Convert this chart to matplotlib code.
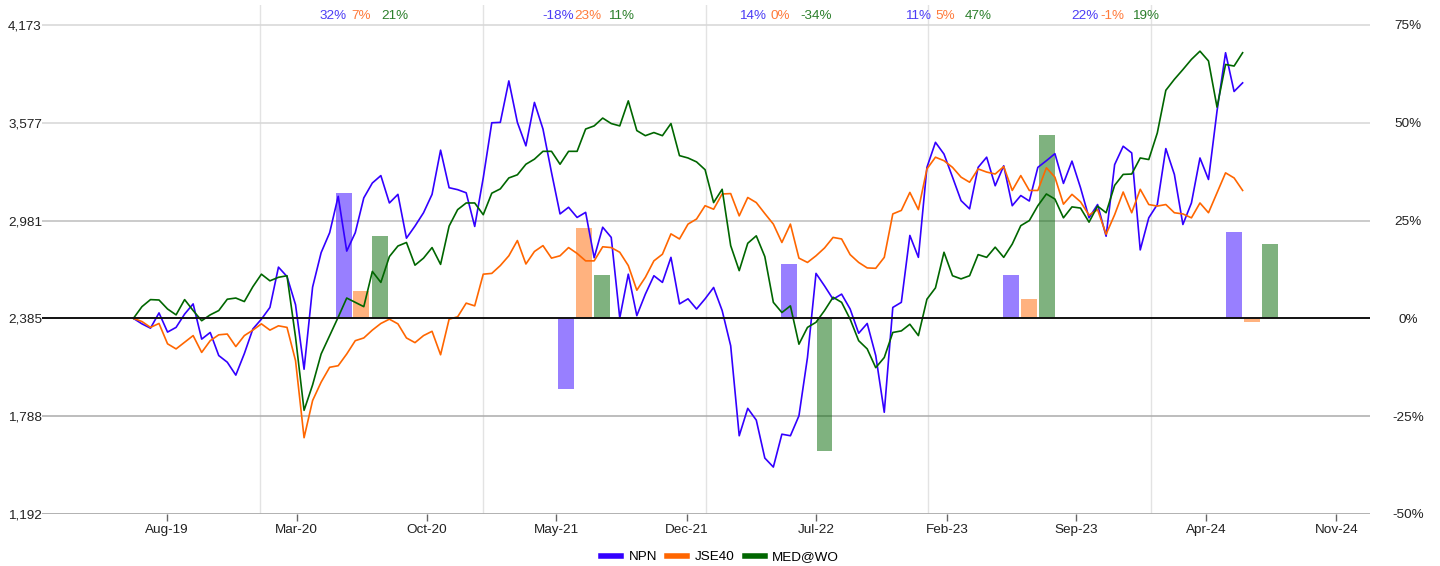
import pandas as pd
import matplotlib
matplotlib.use("Agg")
import matplotlib.pyplot as plt
from matplotlib.lines import Line2D

plt.rcParams['font.family'] = ['Liberation Sans', 'DejaVu Sans']

# relative performance (%) sampled every two weeks from 2019-06-07
start_date = '2019-06-07'
npn = [0, -1.4, -2.5, 1.4, -3.5, -2.3, 1.1, 3.7, -5.3, -3.6,
       -9.5, -11.2, -14.5, -9.0, -2.7, -0.2, 2.8, 13.1, 10.7, 3.5,
       -13.0, 8.0, 16.8, 21.9, 31.2, 17.2, 21.9, 30.8, 34.6, 36.5,
       29.5, 31.7, 20.5, 23.6, 27.0, 31.7, 43.0, 33.4, 32.9, 32.1,
       23.5, 35.9, 50.0, 50.1, 60.7, 50.1, 44.1, 55.2, 48.4, 37.3,
       26.7, 28.4, 25.8, 27.1, 15.5, 23.3, 20.7, 0.1, 11.3, 0.7,
       6.2, 10.9, 9.2, 15.6, 3.7, 5.0, 2.4, 5.0, 7.9, 2.0,
       -7.0, -30.0, -23.0, -26.0, -35.7, -38.0, -29.6, -30.0, -24.9, -10.0,
       11.5, 8.3, 4.9, 6.2, 2.4, -3.8, -1.3, -9.5, -24.0, 2.8,
       4.1, 21.2, 15.6, 38.6, 45.0, 42.0, 36.1, 30.1, 28.0, 38.6,
       41.2, 33.9, 39.0, 28.8, 31.4, 30.0, 38.6, 40.3, 42.1, 34.5,
       40.2, 33.4, 25.7, 29.1, 21.0, 39.3, 44.0, 42.3, 17.5, 25.7,
       29.1, 43.4, 36.8, 24.0, 29.5, 41.0, 35.5, 53.0, 67.9, 58.0,
       60.2]
jse40 = [0, -0.8, -2.3, -1.3, -6.5, -7.8, -6.1, -4.4, -8.7, -5.7,
         -4.2, -4.0, -7.2, -4.4, -3.0, -1.4, -3.0, -1.9, -2.3, -10.8,
         -30.5, -21.0, -16.3, -12.5, -12.1, -9.1, -5.7, -5.0, -3.0, -1.3,
         -0.2, -1.4, -5.0, -6.2, -4.4, -3.3, -9.3, -0.2, 0.4, 3.9,
         3.2, 11.3, 11.5, 13.5, 16.0, 19.9, 13.9, 17.1, 18.6, 15.4,
         16.0, 18.1, 16.6, 14.7, 14.7, 18.3, 18.1, 16.9, 13.5, 7.2,
         10.5, 14.7, 16.4, 21.6, 20.3, 24.1, 25.4, 28.8, 27.9, 31.8,
         31.9, 26.2, 30.9, 29.6, 26.8, 24.1, 19.4, 24.1, 15.4, 14.3,
         16.0, 18.0, 20.7, 20.3, 16.3, 14.3, 12.9, 12.8, 15.6, 26.7,
         27.6, 32.2, 27.8, 38.2, 41.2, 40.3, 38.6, 36.1, 34.8, 38.2,
         37.4, 36.9, 38.8, 32.7, 36.5, 32.7, 32.7, 38.5, 36.1, 29.2,
         31.7, 29.8, 26.4, 27.8, 21.5, 26.5, 32.3, 27.0, 33.0, 29.1,
         28.7, 29.1, 27.0, 26.7, 25.7, 29.5, 27.0, 32.1, 37.2, 35.9,
         32.7]
med_wo = [0, 3.0, 4.8, 4.7, 2.4, 0.9, 4.8, 2.0, -0.6, 0.9,
          2.0, 4.9, 5.2, 4.3, 8.1, 11.3, 9.6, 10.5, 10.9, -4.8,
          -23.5, -17.0, -9.1, -4.4, 0.3, 5.2, 4.1, 3.0, 12.0, 9.2,
          15.8, 18.5, 19.4, 13.6, 15.4, 18.1, 13.8, 23.6, 27.8, 29.5,
          29.5, 26.5, 32.0, 33.1, 35.9, 36.7, 39.4, 40.7, 42.7, 42.7,
          39.4, 42.7, 42.7, 48.4, 49.2, 51.2, 49.8, 49.2, 55.6, 48.0,
          46.7, 47.5, 46.7, 49.8, 41.6, 41.0, 40.0, 38.0, 29.6, 33.0,
          18.6, 12.2, 19.2, 21.1, 15.8, 4.1, 1.5, 3.2, -6.6, -2.3,
          -1.0, 2.0, 5.4, 4.1, -0.2, -5.7, -7.8, -12.6, -10.0, -3.6,
          -3.2, -1.5, -4.4, 4.9, 7.8, 16.9, 10.9, 10.1, 10.9, 16.3,
          15.6, 18.2, 15.6, 19.0, 23.7, 25.0, 28.8, 31.8, 30.5, 25.7,
          28.5, 28.2, 24.6, 28.7, 27.0, 34.0, 36.8, 36.9, 41.0, 40.6,
          47.4, 58.3, 61.1, 63.6, 66.2, 68.3, 65.8, 54.0, 64.9, 64.5,
          67.9]

# yearly returns (%)
years = [2020, 2021, 2022, 2023, 2024]
npn_year = [32, -18, 14, 11, 22]
jse40_year = [7, 23, 0, 5, -1]
med_wo_year = [21, 11, -34, 47, 19]

names = ['NPN', 'JSE40', 'MED@WO']
base_value = 2385
pct_ticks = [-50, -25, 0, 25, 50, 75]
month_ticks = ['2019-08-01', '2020-03-01', '2020-10-01', '2021-05-01', '2021-12-01',
               '2022-07-01', '2023-02-01', '2023-09-01', '2024-04-01', '2024-11-01']

colors = ['#3300ff', '#ff6600', '#006600']
label_colors = ['#4b3cf5', '#ff7a3a', '#2b7f2b']
grid_colors = {-50: '#ababab', -25: '#ababab', 25: '#bdbdbd', 50: '#d6d6d6', 75: '#d6d6d6'}
fs = 9.7

dates = pd.date_range(start_date, periods=len(npn), freq='14D')
series = [npn, jse40, med_wo]
yearly = [npn_year, jse40_year, med_wo_year]

fig = plt.figure(figsize=(14.4, 5.66), dpi=100)
ax = fig.add_axes([42 / 1440, 52 / 566, 1328 / 1440, 508.6 / 566])

ax.set_xlim(pd.Timestamp('2019-01-08'), pd.Timestamp('2024-12-26'))
ax.set_ylim(-50, 80)

# year separators and horizontal grid
for y in years:
    ax.axvline(pd.Timestamp(f'{y}-01-01'), color='#e3e3e3', lw=1, zorder=0)
for p in pct_ticks:
    if p == 0:
        ax.axhline(0, color='#111111', lw=1.4, zorder=4)
    else:
        ax.axhline(p, color=grid_colors[p], lw=1.3 if p == -50 else 1.1, zorder=0.5)

# yearly bars
offsets = [-29, 0, 30]
for k in range(3):
    bx = [pd.Timestamp(f'{y}-06-15') + pd.Timedelta(days=offsets[k]) for y in years]
    ax.bar(bx, yearly[k], width=26, color=colors[k], alpha=0.5, lw=0, zorder=1)

for k in range(3):
    ax.plot(dates, series[k], color=colors[k], lw=1.2, zorder=3)

# yearly labels above plot
label_centers = [0.240, 0.411, 0.556, 0.680, 0.806]
for j, cx in enumerate(label_centers):
    specs = [(-10, 'right'), (0, 'center'), (14.5, 'left')]
    for k in range(3):
        dx, ha = specs[k]
        ax.annotate(f'{yearly[k][j]}%', xy=(cx, 77.2), xycoords=('axes fraction', 'data'),
                    xytext=(dx, 0), textcoords='offset points', ha=ha, va='center',
                    fontsize=fs, color=label_colors[k])

for s in ax.spines.values():
    s.set_visible(False)

ax.set_yticks(pct_ticks)
ax.set_yticklabels([f'{int(base_value * (1 + p / 100)):,}' for p in pct_ticks])
ax.tick_params(axis='y', length=0, pad=0, labelsize=fs, labelcolor='#222222')

ax.set_xticks([pd.Timestamp(d) for d in month_ticks])
ax.set_xticklabels([pd.Timestamp(d).strftime('%b-%y') for d in month_ticks])
ax.tick_params(axis='x', length=5, width=1, color='#666666', pad=2,
               labelsize=fs, labelcolor='#222222')

ax2 = ax.twinx()
ax2.set_ylim(ax.get_ylim())
ax2.set_yticks(pct_ticks)
ax2.set_yticklabels([f'{p}%' for p in pct_ticks])
ax2.tick_params(axis='y', length=0, pad=27.5, labelsize=fs, labelcolor='#222222')
for lab in ax2.get_yticklabels():
    lab.set_horizontalalignment('center')
for s in ax2.spines.values():
    s.set_visible(False)

handles = [Line2D([], [], color=c, lw=4) for c in colors]
fig.legend(handles, names, loc='center', bbox_to_anchor=(0.5, 9 / 566), ncol=3,
           frameon=False, fontsize=fs, handlelength=1.5, handletextpad=0.55,
           columnspacing=0.75, borderpad=0)

fig.savefig('out.png', dpi=100)
